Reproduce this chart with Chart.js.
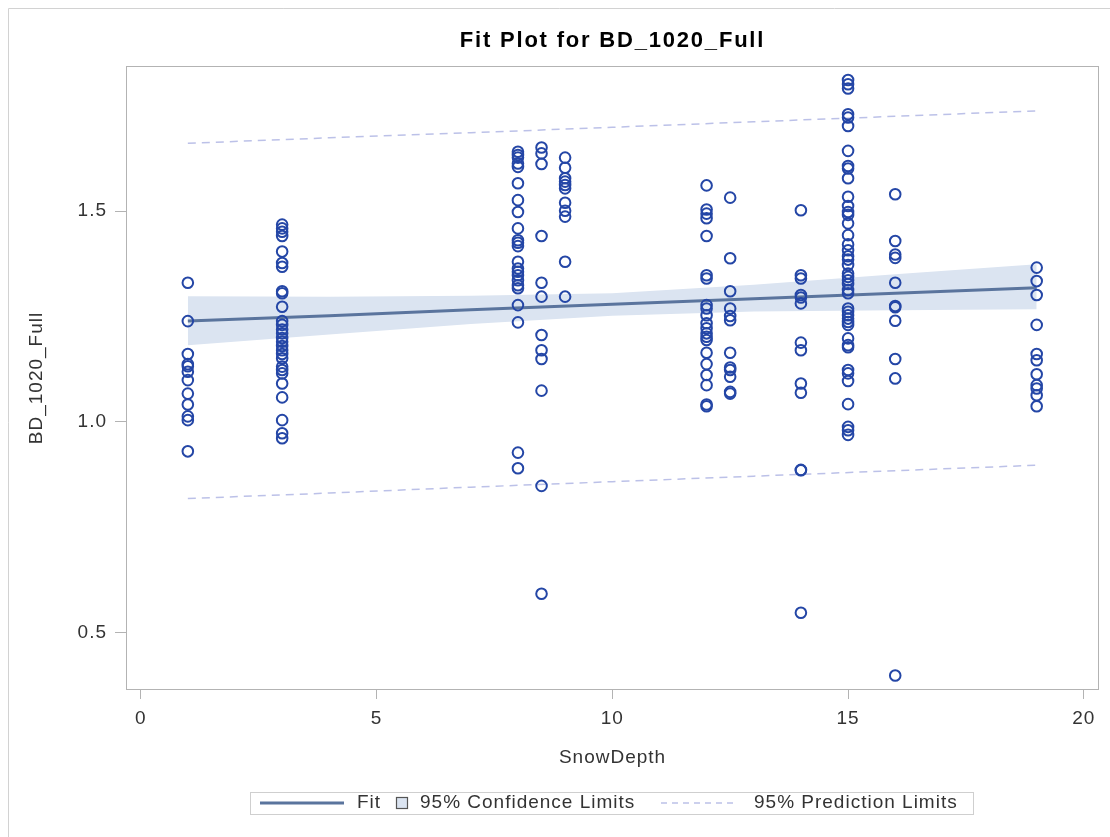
<!DOCTYPE html>
<html>
<head>
<meta charset="utf-8">
<title>Fit Plot for BD_1020_Full</title>
<script src="https://cdn.jsdelivr.net/npm/chart.js@4.4.1/dist/chart.umd.min.js"></script>
<style>
  html, body { margin: 0; padding: 0; background: #fff; }
  #wrap { width: 1110px; height: 837px; }
</style>
</head>
<body>
<div id="wrap"><canvas id="fitChart" width="1110" height="837"></canvas></div>
<script>
// observed BD_1020_Full values, one array per SnowDepth level
const bdAt1 = [1.330, 1.239, 1.161, 1.137, 1.132, 1.119, 1.099, 1.067, 1.041, 1.013, 1.004, 0.930];
const bdAt3 = [1.468, 1.459, 1.451, 1.441, 1.404, 1.377, 1.368, 1.310, 1.305, 1.273, 1.239, 1.230, 1.219, 1.210,
  1.199, 1.190, 1.180, 1.170, 1.161, 1.151, 1.131, 1.123, 1.115, 1.091, 1.058, 1.004, 0.973, 0.961];
const bdAt8 = [1.641, 1.633, 1.627, 1.613, 1.605, 1.566, 1.526, 1.498, 1.459, 1.431, 1.425, 1.417, 1.380, 1.364,
  1.356, 1.348, 1.336, 1.324, 1.317, 1.277, 1.236, 0.927, 0.890];
const bdAt8_5 = [1.651, 1.637, 1.612, 1.441, 1.330, 1.297, 1.206, 1.170, 1.149, 1.074, 0.848, 0.592];
const bdAt9 = [1.627, 1.603, 1.578, 1.570, 1.562, 1.554, 1.520, 1.501, 1.487, 1.380, 1.297];
const bdAt12 = [1.561, 1.504, 1.494, 1.483, 1.441, 1.348, 1.340, 1.277, 1.269, 1.253, 1.234, 1.222, 1.210, 1.202,
  1.194, 1.164, 1.137, 1.111, 1.087, 1.041, 1.037];
const bdAt12_5 = [1.532, 1.388, 1.310, 1.269, 1.251, 1.241, 1.164, 1.129, 1.123, 1.107, 1.071, 1.067];
const bdAt14 = [1.502, 1.348, 1.340, 1.301, 1.295, 1.281, 1.188, 1.170, 1.091, 1.069, 0.886, 0.885, 0.547];
const bdAt15 = [1.811, 1.801, 1.791, 1.730, 1.722, 1.702, 1.643, 1.607, 1.601, 1.578, 1.534, 1.512, 1.498, 1.491,
  1.471, 1.443, 1.421, 1.407, 1.393, 1.385, 1.372, 1.352, 1.344, 1.336, 1.327, 1.313, 1.305, 1.269, 1.261, 1.253,
  1.245, 1.237, 1.230, 1.198, 1.182, 1.177, 1.123, 1.115, 1.097, 1.042, 0.988, 0.980, 0.969];
const bdAt16 = [1.540, 1.429, 1.397, 1.389, 1.330, 1.275, 1.272, 1.240, 1.149, 1.103, 0.398];
const bdAt19 = [1.366, 1.334, 1.301, 1.230, 1.161, 1.146, 1.113, 1.087, 1.079, 1.063, 1.037];

const depthLevels = [1, 3, 8, 8.5, 9, 12, 12.5, 14, 15, 16, 19];
const bdByLevel = [bdAt1, bdAt3, bdAt8, bdAt8_5, bdAt9, bdAt12, bdAt12_5, bdAt14, bdAt15, bdAt16, bdAt19];

// fit, confidence and prediction limits read at these SnowDepth values
const curveX = [1, 4, 7, 10, 13, 16, 19];
const fitY = [1.239, 1.252, 1.266, 1.279, 1.292, 1.305, 1.318];
const clUpper = [1.298, 1.297, 1.299, 1.305, 1.325, 1.350, 1.374];
const clLower = [1.182, 1.207, 1.232, 1.252, 1.262, 1.265, 1.267];
const plUpper = [1.661, 1.674, 1.686, 1.699, 1.712, 1.725, 1.738];
const plLower = [0.818, 0.831, 0.845, 0.858, 0.871, 0.884, 0.897];

const xTicks = [0, 5, 10, 15, 20];
const yTicks = [0.5, 1.0, 1.5];

const FONT = '"Liberation Sans", Arial, sans-serif';
const C_MARK = '#2446a6';
const C_FIT = '#5a749d';
const C_BAND = '#dbe4f1';
const C_PRED = '#bcc1e8';
const C_AXIS = '#b3b3b3';
const C_TEXT = '#333333';

const obsPoints = [];
depthLevels.forEach((x, i) => bdByLevel[i].forEach(y => obsPoints.push({ x, y })));

const toXY = ys => curveX.map((x, i) => ({ x, y: ys[i] }));

const framePlugin = {
  id: 'frame',
  beforeDraw(chart) {
    chart.ctx.letterSpacing = '1px';
  },
  afterDraw(chart) {
    const { ctx, chartArea: a } = chart;
    ctx.save();
    // outer page border
    ctx.strokeStyle = '#d2d2d2';
    ctx.lineWidth = 1;
    ctx.beginPath();
    ctx.moveTo(8.5, 837);
    ctx.lineTo(8.5, 8.5);
    ctx.lineTo(1110, 8.5);
    ctx.stroke();
    // plot frame
    ctx.strokeStyle = C_AXIS;
    ctx.strokeRect(Math.round(a.left) - 0.5, Math.round(a.top) - 0.5,
      Math.round(a.right - a.left) + 1, Math.round(a.bottom - a.top) + 1);

    // title
    ctx.fillStyle = '#000';
    ctx.font = 'bold 22px ' + FONT;
    ctx.letterSpacing = '1.8px';
    ctx.textAlign = 'center';
    ctx.textBaseline = 'middle';
    ctx.fillText('Fit Plot for BD_1020_Full', (a.left + a.right) / 2, 41);

    // legend
    const ly = 803;
    ctx.strokeStyle = '#cfcfcf';
    ctx.lineWidth = 1;
    ctx.strokeRect(250.5, 792.5, 723, 22);
    ctx.strokeStyle = C_FIT;
    ctx.lineWidth = 3;
    ctx.beginPath();
    ctx.moveTo(260, ly);
    ctx.lineTo(344, ly);
    ctx.stroke();
    ctx.fillStyle = C_BAND;
    ctx.fillRect(396, 797, 12, 12);
    ctx.strokeStyle = '#555';
    ctx.lineWidth = 1.2;
    ctx.strokeRect(396.5, 797.5, 11, 11);
    ctx.strokeStyle = C_PRED;
    ctx.lineWidth = 1.5;
    ctx.setLineDash([6, 5]);
    ctx.beginPath();
    ctx.moveTo(661, ly);
    ctx.lineTo(738, ly);
    ctx.stroke();
    ctx.setLineDash([]);
    ctx.fillStyle = C_TEXT;
    ctx.font = '19px ' + FONT;
    ctx.letterSpacing = '1px';
    ctx.textAlign = 'left';
    ctx.fillText('Fit', 357, ly);
    ctx.fillText('95% Confidence Limits', 420, ly);
    ctx.fillText('95% Prediction Limits', 754, ly);
    ctx.restore();
  }
};

new Chart(document.getElementById('fitChart'), {
  type: 'scatter',
  data: {
    datasets: [
      {
        label: 'BD_1020_Full',
        data: obsPoints,
        pointStyle: 'circle',
        pointRadius: 5.3,
        pointHoverRadius: 5.3,
        pointBorderWidth: 2,
        pointBorderColor: C_MARK,
        pointBackgroundColor: 'rgba(0,0,0,0)'
      },
      {
        label: 'Fit',
        data: toXY(fitY),
        showLine: true,
        borderColor: C_FIT,
        borderWidth: 3,
        pointRadius: 0
      },
      {
        label: '95% Prediction Limits',
        data: toXY(plUpper),
        showLine: true,
        borderColor: C_PRED,
        borderWidth: 1.5,
        borderDash: [8, 6],
        pointRadius: 0
      },
      {
        label: 'PL lower',
        data: toXY(plLower),
        showLine: true,
        borderColor: C_PRED,
        borderWidth: 1.5,
        borderDash: [8, 6],
        pointRadius: 0
      },
      {
        label: '95% Confidence Limits',
        data: toXY(clUpper),
        showLine: true,
        borderWidth: 0,
        borderColor: 'rgba(0,0,0,0)',
        backgroundColor: C_BAND,
        fill: '+1',
        pointRadius: 0
      },
      {
        label: 'CL lower',
        data: toXY(clLower),
        showLine: true,
        borderWidth: 0,
        borderColor: 'rgba(0,0,0,0)',
        pointRadius: 0
      }
    ]
  },
  options: {
    responsive: false,
    animation: false,
    events: [],
    layout: { padding: { top: 67, left: 0, right: 12, bottom: 58 } },
    plugins: {
      legend: { display: false },
      title: { display: false },
      tooltip: { enabled: false }
    },
    scales: {
      x: {
        type: 'linear',
        min: -0.29,
        max: 20.3,
        afterFit: s => { s.height = 90; },
        afterBuildTicks: s => { s.ticks = xTicks.map(v => ({ value: v })); },
        grid: { drawOnChartArea: false, drawTicks: true, tickLength: 10, color: C_AXIS },
        border: { display: false },
        ticks: {
          color: C_TEXT,
          font: { family: FONT, size: 19 },
          padding: 8,
          maxRotation: 0,
          autoSkip: false,
          callback: v => String(v)
        },
        title: {
          display: true,
          text: 'SnowDepth',
          color: C_TEXT,
          font: { family: FONT, size: 19 },
          padding: { top: 0, bottom: 10 }
        }
      },
      y: {
        type: 'linear',
        min: 0.366,
        max: 1.842,
        afterFit: s => { s.width = 127; },
        afterBuildTicks: s => { s.ticks = yTicks.map(v => ({ value: v })); },
        grid: { drawOnChartArea: false, drawTicks: true, tickLength: 12, color: C_AXIS },
        border: { display: false },
        ticks: {
          color: C_TEXT,
          font: { family: FONT, size: 19 },
          padding: 8,
          callback: v => Number(v).toFixed(1)
        },
        title: {
          display: true,
          text: 'BD_1020_Full',
          color: C_TEXT,
          font: { family: FONT, size: 19 },
          padding: { top: 25, bottom: 0 }
        }
      }
    }
  },
  plugins: [framePlugin]
});
</script>
</body>
</html>
